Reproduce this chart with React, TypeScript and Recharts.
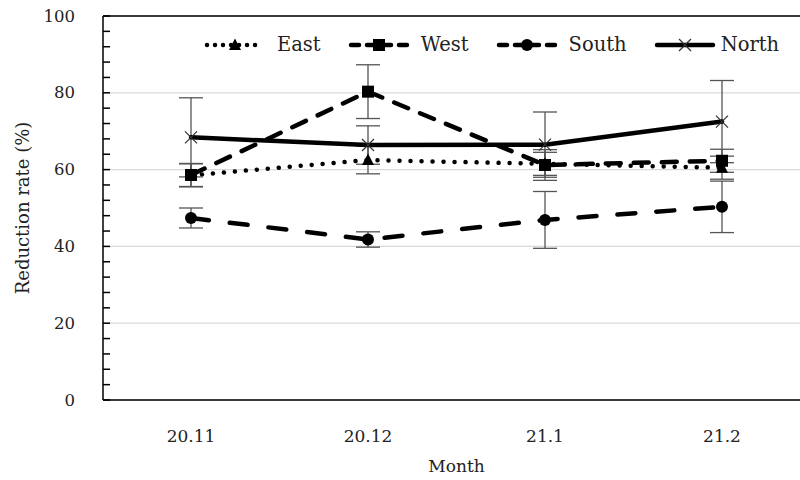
import React from "react";
import {
  LineChart,
  Line,
  XAxis,
  YAxis,
  CartesianGrid,
  ErrorBar,
  ReferenceLine,
} from "recharts";

const FONT = "'DejaVu Serif', serif";

const months = ["20.11", "20.12", "21.1", "21.2"];
const east = [58.5, 62.5, 61.5, 60.5];
const eastErr = [3, 3.6, 3, 3];
const west = [58.6, 80.3, 61.2, 62.3];
const westErr = [3, 7, 4, 3];
const south = [47.4, 41.8, 46.9, 50.3];
const southErr = [2.6, 2, 7.4, 6.7];
const north = [68.4, 66.4, 66.5, 72.5];
const northErr = [10.3, 5, 8.5, 10.7];

const yLabels = [0, 20, 40, 60, 80, 100];
const minorTicks = [0, 4, 8, 12, 16, 20, 24, 28, 32, 36, 40, 44, 48, 52, 56, 60, 64, 68, 72, 76, 80, 84, 88, 92, 96, 100];

const data = months.map((m, i) => ({
  month: m,
  east: east[i],
  eastErr: eastErr[i],
  west: west[i],
  westErr: westErr[i],
  south: south[i],
  southErr: southErr[i],
  north: north[i],
  northErr: northErr[i],
}));

// marker shapes
const Marker = ({ kind, cx, cy }: { kind: string; cx: number; cy: number }) => {
  if (kind === "triangle")
    return <path d={`M${cx},${cy - 6.5}L${cx + 6},${cy + 5}L${cx - 6},${cy + 5}Z`} fill="#000" />;
  if (kind === "square") return <rect x={cx - 6} y={cy - 6} width={12} height={12} fill="#000" />;
  if (kind === "circle") return <circle cx={cx} cy={cy} r={6} fill="#000" />;
  return (
    <g stroke="#333" strokeWidth={1.3}>
      <line x1={cx - 6} y1={cy - 6} x2={cx + 6} y2={cy + 6} />
      <line x1={cx - 6} y1={cy + 6} x2={cx + 6} y2={cy - 6} />
    </g>
  );
};

const dotOf = (kind: string) => (p: any) =>
  p.cx == null ? <g key={p.key} /> : <g key={p.key}><Marker kind={kind} cx={p.cx} cy={p.cy} /></g>;

const series = [
  { key: "east", name: "East", kind: "triangle", dash: "0.01 11", width: 4.5 },
  { key: "west", name: "West", kind: "square", dash: "15 13", width: 4.5 },
  { key: "south", name: "South", kind: "circle", dash: "18 21", width: 4.5 },
  { key: "north", name: "North", kind: "cross", dash: undefined, width: 4.5 },
];

const LegendBox = () => (
  <div style={{ position: "absolute", top: 33, left: 203, display: "flex", alignItems: "center", fontFamily: FONT, fontSize: 19.5, color: "#222" }}>
    {series.map((s) => (
      <div key={s.key} style={{ display: "flex", alignItems: "center", marginRight: 26 }}>
        <svg width={64} height={16}>
          <line x1={4} y1={8} x2={60} y2={8} stroke="#000" strokeWidth={s.width} strokeDasharray={s.dash ? (s.kind === "triangle" ? "0.01 8" : "8 8") : undefined} strokeLinecap="round" />
          <Marker kind={s.kind} cx={32} cy={8} />
        </svg>
        <span style={{ marginLeft: s.kind === "cross" ? 4 : 10 }}>{s.name}</span>
      </div>
    ))}
  </div>
);

const YLabel = ({ viewBox }: any) => {
  const x = 22;
  const y = viewBox.y + viewBox.height / 2;
  return (
    <text x={x} y={y} transform={`rotate(-90 ${x} ${y})`} textAnchor="middle" dominantBaseline="central" fontFamily={FONT} fontSize={18} fill="#222">
      Reduction rate (%)
    </text>
  );
};

// only every 20 gets a label, the rest are inner minor ticks
const YTick = (p: any) =>
  yLabels.includes(p.payload.value) ? (
    <text x={p.x} y={p.y} textAnchor="end" dominantBaseline="central" fontFamily={FONT} fontSize={16.5} fill="#222">
      {p.payload.value}
    </text>
  ) : (
    <g />
  );

export default function App() {
  return (
    <div style={{ position: "absolute", left: 0, top: 0, width: 800, height: 480, overflow: "hidden", background: "#fff" }}>
      <LineChart width={830} height={480} data={data} margin={{ top: 16, right: 20, bottom: 0, left: 0 }}>
        <CartesianGrid vertical={false} horizontalValues={yLabels} stroke="#d9d9d9" strokeWidth={1.3} />
        <XAxis
          dataKey="month"
          height={80}
          padding={{ left: 88, right: 88 }}
          axisLine={{ stroke: "#000", strokeWidth: 1.5 }}
          tickLine={false}
          tickSize={0}
          tickMargin={30}
          tick={{ fontFamily: FONT, fontSize: 17, fill: "#222" }}
          label={{ value: "Month", position: "insideBottom", offset: 8, fontFamily: FONT, fontSize: 17, fill: "#222" }}
        />
        <YAxis
          width={103}
          domain={[0, 100]}
          ticks={minorTicks}
          interval={0}
          axisLine={{ stroke: "#000", strokeWidth: 1.5 }}
          tickLine={{ stroke: "#000", strokeWidth: 1.5 }}
          tickSize={-7}
          tickMargin={35}
          tick={YTick}
          label={<YLabel />}
        />
        <ReferenceLine y={100} stroke="#000" strokeWidth={1.5} />
        {series.map((s) => (
          <Line
            key={s.key}
            dataKey={s.key}
            name={s.name}
            stroke="#000"
            strokeWidth={s.width}
            strokeDasharray={s.dash}
            strokeLinecap="round"
            dot={dotOf(s.kind)}
            activeDot={false}
            isAnimationActive={false}
          >
            <ErrorBar dataKey={`${s.key}Err`} width={12} stroke="#555" strokeWidth={1.3} direction="y" />
          </Line>
        ))}
      </LineChart>
      <LegendBox />
    </div>
  );
}
